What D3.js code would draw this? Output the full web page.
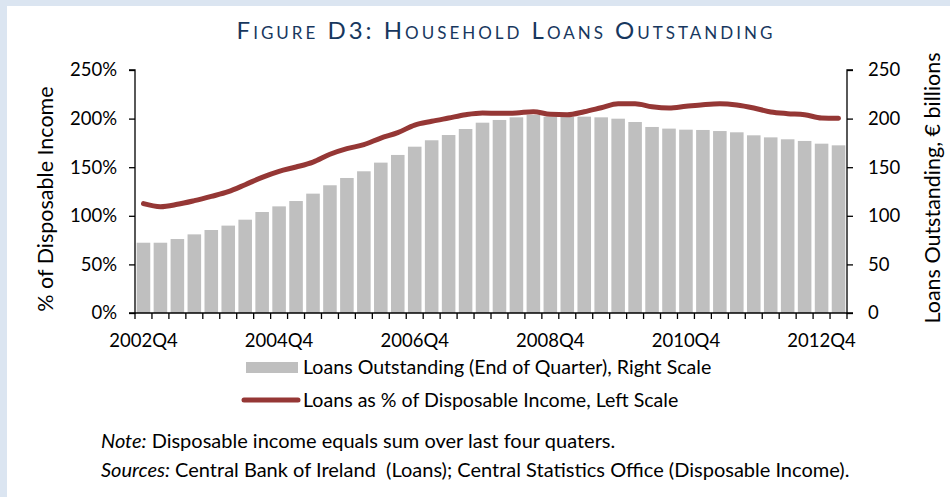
<!DOCTYPE html>
<html>
<head>
<meta charset="utf-8">
<script src="https://cdn.jsdelivr.net/npm/d3@7"></script>
<style>
  body { margin: 0; background: #dbe5f1; }
  svg { display: block; font-family: Lato, "Open Sans", sans-serif; }
</style>
</head>
<body>
<svg></svg>
<script>
const width = 950;
const height = 497;

// quarters 2002Q4 .. 2013Q1
const quarters = [];
for (let y = 2002, q = 4; quarters.length < 42; ) {
  quarters.push(y + 'Q' + q);
  q++;
  if (q > 4) { q = 1; y++; }
}

// loans outstanding, € billions (right scale)
const loans = [72.3, 72.3, 76.1, 80.9, 85.4, 89.9, 96.0, 103.9, 109.7, 115.2,
  122.8, 131.4, 138.9, 145.8, 154.7, 162.6, 171.1, 177.7, 183.1, 189.3,
  195.8, 198.6, 201.3, 203.7, 202.0, 202.0, 202.0, 201.3, 199.9, 196.5,
  191.4, 189.7, 188.6, 188.3, 187.2, 185.9, 182.8, 180.7, 178.7, 177.0,
  174.2, 172.5];

// loans as % of disposable income (left scale)
const ratio = [112.5, 109.4, 111.8, 115.6, 120.0, 124.8, 132.0, 139.6, 145.8, 150.2,
  155.3, 163.3, 169.1, 173.2, 180.0, 185.5, 193.4, 197.2, 200.6, 204.0,
  205.8, 205.4, 205.8, 207.1, 204.4, 204.0, 207.1, 211.2, 215.3, 215.3,
  212.2, 210.9, 212.6, 214.3, 215.3, 214.0, 210.9, 206.8, 205.1, 204.0,
  200.6, 200.3];

const leftTicks = [0, 50, 100, 150, 200, 250];
const rightTicks = [0, 50, 100, 150, 200, 250];
const xLabels = ['2002Q4', '2004Q4', '2006Q4', '2008Q4', '2010Q4', '2012Q4'];

const margin = {top: 70, right: 103, bottom: 184, left: 135};

const svg = d3.select('svg')
  .attr('width', width)
  .attr('height', height);

// white panel
svg.append('rect')
  .attr('x', 7).attr('y', 6)
  .attr('width', width - 7).attr('height', height - 6)
  .attr('fill', '#fff');

const x = d3.scaleBand()
  .domain(quarters)
  .range([margin.left, width - margin.right])
  .paddingInner(0.2)
  .paddingOuter(0.1);

const yL = d3.scaleLinear().domain([0, 250]).range([height - margin.bottom, margin.top]);
const yR = d3.scaleLinear().domain([0, 250]).range([height - margin.bottom, margin.top]);

const g = svg.append('g');

g.selectAll('rect.bar')
  .data(loans)
  .enter()
  .append('rect')
  .attr('class', 'bar')
  .attr('x', (d, i) => x(quarters[i]))
  .attr('width', x.bandwidth())
  .attr('y', d => yR(d))
  .attr('height', d => yR(0) - yR(d))
  .attr('fill', '#bfbfbf');

const line = d3.line()
  .x((d, i) => x(quarters[i]) + x.bandwidth() / 2)
  .y(d => yL(d))
  .curve(d3.curveMonotoneX);

g.append('path')
  .datum(ratio)
  .attr('d', line)
  .attr('fill', 'none')
  .attr('stroke', '#953735')
  .attr('stroke-width', 5)
  .attr('stroke-linecap', 'round')
  .attr('stroke-linejoin', 'round');

// axes
const leftAxis = d3.axisLeft(yL)
  .tickValues(leftTicks)
  .tickSize(6)
  .tickPadding(12)
  .tickFormat(d => d + '%');

const rightAxis = d3.axisRight(yR)
  .tickValues(rightTicks)
  .tickSize(6)
  .tickPadding(15);

function styleAxis(sel) {
  sel.select('.domain').attr('stroke', '#000').attr('stroke-width', 1.3);
  sel.selectAll('.tick line').attr('stroke', '#000').attr('stroke-width', 1.3);
  sel.selectAll('text').attr('font-size', 18.5).attr('fill', '#000')
    .attr('font-family', 'Lato, sans-serif');
}

svg.append('g')
  .attr('transform', `translate(${margin.left},0)`)
  .call(leftAxis)
  .call(styleAxis)
  .call(s => s.select('.domain').attr('d', `M-6,${yL(250)}H0V${yL(0)}H-6`));

svg.append('g')
  .attr('transform', `translate(${width - margin.right},0)`)
  .call(rightAxis)
  .call(styleAxis)
  .call(s => s.select('.domain').attr('d', `M6,${yR(250)}H0V${yR(0)}H6`));

// x ticks sit on band boundaries
const xg = svg.append('g')
  .attr('transform', `translate(0,${height - margin.bottom})`);
const bounds = d3.range(quarters.length + 1).map(i => margin.left + (width - margin.right - margin.left) * i / quarters.length);
xg.append('line')
  .attr('x1', margin.left).attr('x2', width - margin.right)
  .attr('stroke', '#000').attr('stroke-width', 1.3);
xg.selectAll('line.tk')
  .data(bounds)
  .enter()
  .append('line')
  .attr('class', 'tk')
  .attr('x1', d => d).attr('x2', d => d)
  .attr('y1', 0).attr('y2', 6)
  .attr('stroke', '#000').attr('stroke-width', 1.3);
xg.selectAll('text')
  .data(xLabels)
  .enter()
  .append('text')
  .attr('x', d => x(d) + x.bandwidth() / 2)
  .attr('y', 34)
  .attr('text-anchor', 'middle')
  .attr('font-size', 18.5)
  .text(d => d);

// axis titles
svg.append('text')
  .attr('transform', `translate(53,${199}) rotate(-90)`)
  .attr('text-anchor', 'middle')
  .attr('font-size', 21.5)
  .text('% of Disposable Income');

svg.append('text')
  .attr('transform', `translate(940,${188}) rotate(-90)`)
  .attr('text-anchor', 'middle')
  .attr('font-size', 21.5)
  .text('Loans Outstanding, € billions');

// title
svg.append('text')
  .attr('x', 506)
  .attr('y', 39)
  .attr('text-anchor', 'middle')
  .attr('font-size', 24)
  .attr('fill', '#17375e')
  .attr('letter-spacing', 3)
  .style('font-variant', 'small-caps')
  .text('Figure D3: Household Loans Outstanding');

// legend
const lg = svg.append('g');
lg.append('rect')
  .attr('x', 246).attr('y', 362)
  .attr('width', 52).attr('height', 11)
  .attr('fill', '#bfbfbf');
lg.append('text')
  .attr('x', 303).attr('y', 374)
  .attr('font-size', 19.6)
  .text('Loans Outstanding (End of Quarter), Right Scale');
lg.append('line')
  .attr('x1', 244).attr('x2', 298)
  .attr('y1', 400).attr('y2', 400)
  .attr('stroke', '#953735')
  .attr('stroke-width', 5)
  .attr('stroke-linecap', 'round');
lg.append('text')
  .attr('x', 303).attr('y', 407)
  .attr('font-size', 19.6)
  .text('Loans as % of Disposable Income, Left Scale');

// notes
const notes = svg.append('g').attr('font-size', 20);
const n1 = notes.append('text').attr('x', 101).attr('y', 448);
n1.append('tspan').attr('font-style', 'italic').text('Note:');
n1.append('tspan').text(' Disposable income equals sum over last four quaters.');
const n2 = notes.append('text').attr('x', 101).attr('y', 477);
n2.append('tspan').attr('font-style', 'italic').text('Sources:');
n2.append('tspan').text(' Central Bank of Ireland  (Loans); Central Statistics Office (Disposable Income).')
  .style('white-space', 'pre');
</script>
</body>
</html>
